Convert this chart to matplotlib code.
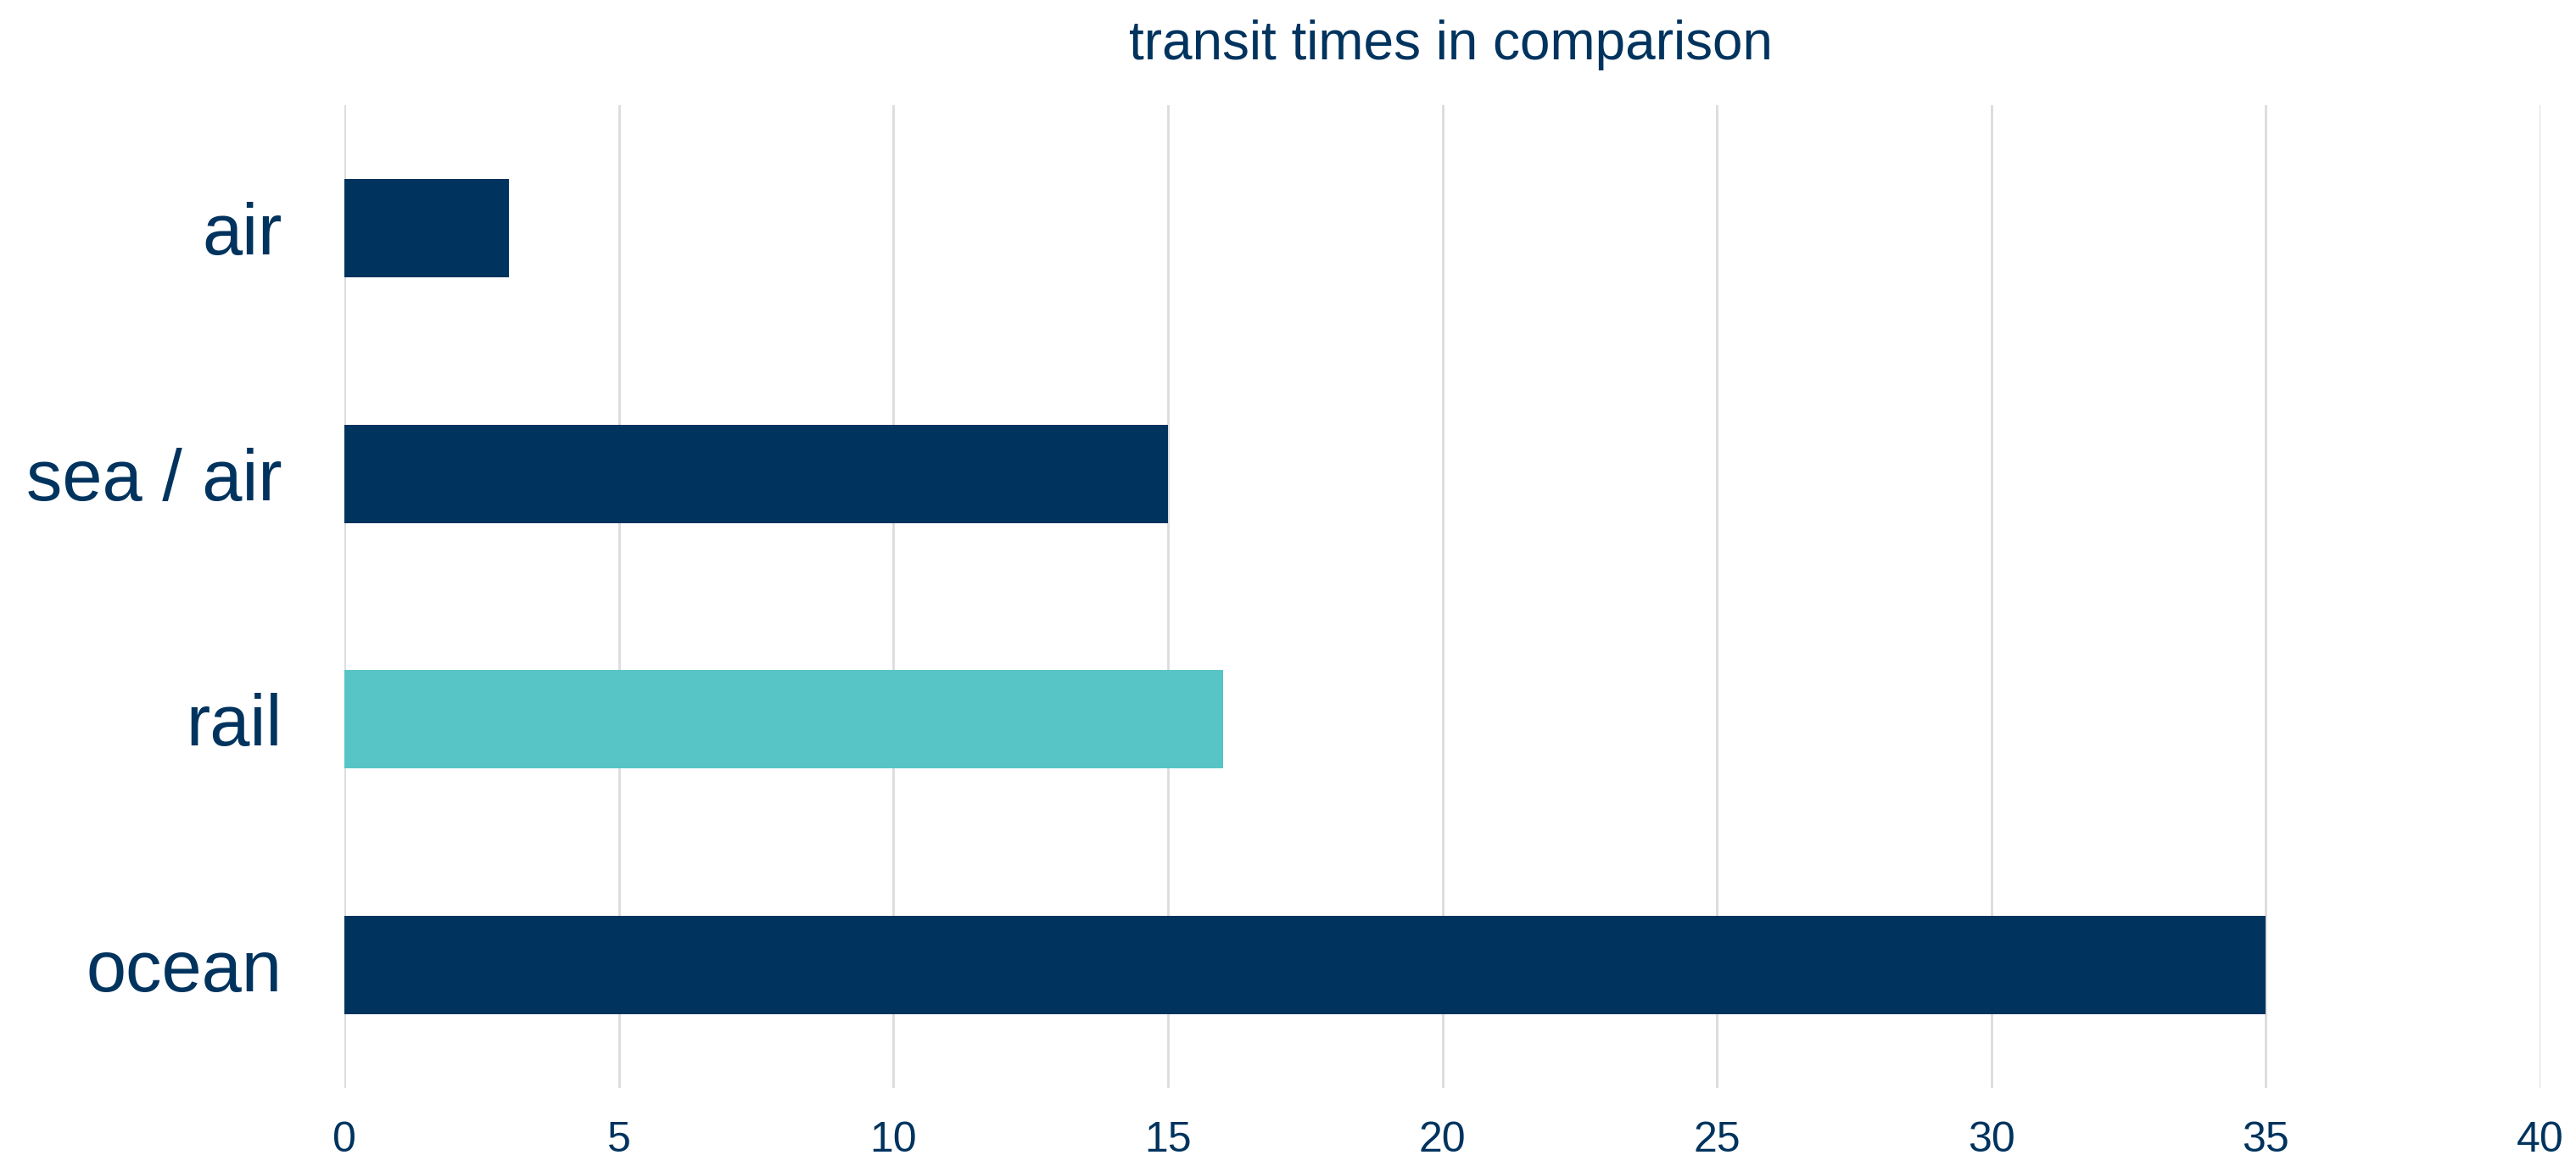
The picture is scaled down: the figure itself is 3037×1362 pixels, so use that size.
import matplotlib
matplotlib.use("Agg")
import matplotlib.pyplot as plt

# data (top to bottom in the chart)
modes = ["air", "sea / air", "rail", "ocean"]
days = [3, 15, 16, 35]
bar_colors = ["#00335E", "#00335E", "#57C5C6", "#00335E"]

x_ticks = [0, 5, 10, 15, 20, 25, 30, 35, 40]

navy = "#00335E"
plt.rcParams["font.family"] = ["Liberation Sans", "DejaVu Sans"]

fig = plt.figure(figsize=(30.37, 13.62), dpi=100)
ax = fig.add_axes([0.1337, 0.058, 0.8525, 0.851])

# reverse so the first category sits at the top
ypos = list(range(len(modes)))[::-1]
ax.barh(ypos, days, height=0.4, color=bar_colors, zorder=3)

ax.set_xlim(0, 40)
ax.set_ylim(-0.5, len(modes) - 0.5)
ax.set_xticks(x_ticks)
ax.set_yticks(ypos)
ax.set_yticklabels(modes)

ax.grid(axis="x", color="#DCDCDC", linewidth=2, zorder=0)
ax.grid(axis="y", visible=False)
for s in ax.spines.values():
    s.set_visible(False)

ax.tick_params(axis="x", length=0, pad=28, labelsize=36, labelcolor=navy)
ax.tick_params(axis="y", length=0, pad=53, labelsize=61, labelcolor=navy)

ax.set_title("transit times in comparison", fontsize=46, color=navy,
             pad=39, x=0.504)

fig.savefig("out.png", dpi=100)
